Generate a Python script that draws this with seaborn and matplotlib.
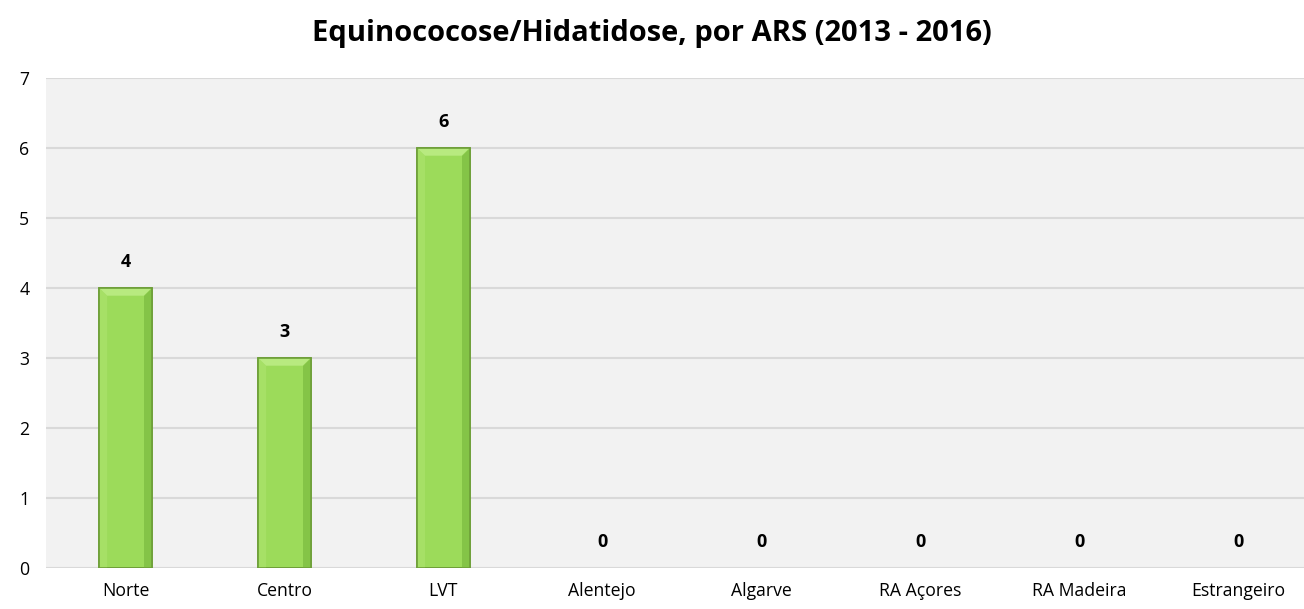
import matplotlib
matplotlib.use("Agg")
import matplotlib.pyplot as plt
from matplotlib.patches import Polygon
import pandas as pd
import seaborn as sns

regions = ["Norte", "Centro", "LVT", "Alentejo", "Algarve", "RA Açores", "RA Madeira", "Estrangeiro"]
cases = [4, 3, 6, 0, 0, 0, 0, 0]
title = "Equinococose/Hidatidose, por ARS (2013 - 2016)"

df = pd.DataFrame({"region": regions, "cases": cases})

sns.set_theme(style="white")
plt.rcParams["font.family"] = ["Open Sans", "DejaVu Sans"]

fig = plt.figure(figsize=(13.04, 6.09), dpi=100)
ax = fig.add_axes([46 / 1304, 41 / 609, 1 - 46 / 1304, 490 / 609])
ax.set_facecolor("#F2F2F2")

sns.barplot(data=df, x="region", y="cases", color="#9CDB5A", width=0.33,
            edgecolor="#6E9F38", linewidth=1.2, saturation=1, ax=ax, zorder=3)

# bevel look: lighter top, darker right side
bx, by = 0.05, 0.11
for p in ax.patches:
    h = p.get_height()
    if h <= 0:
        p.set_visible(False)
        continue
    x0, w = p.get_x(), p.get_width()
    x1 = x0 + w
    top = Polygon([(x0, h), (x1, h), (x1 - bx, h - by), (x0 + bx, h - by)],
                  closed=True, facecolor="#B8EA80", edgecolor="none", zorder=4)
    right = Polygon([(x1, h), (x1, 0), (x1 - bx, 0), (x1 - bx, h - by)],
                    closed=True, facecolor="#84C447", edgecolor="none", zorder=4)
    left = Polygon([(x0, h), (x0 + bx, h - by), (x0 + bx, 0), (x0, 0)],
                   closed=True, facecolor="#A6E066", edgecolor="none", zorder=4)
    ax.add_patch(left)
    ax.add_patch(right)
    ax.add_patch(top)
    ax.add_patch(Polygon([(x0, 0), (x0, h), (x1, h), (x1, 0)], closed=True,
                         facecolor="none", edgecolor="#6E9F38", linewidth=1.2, zorder=5))

for i, v in enumerate(cases):
    ax.text(i, v + 0.37, str(v), ha="center", va="center",
            fontsize=13, fontweight="bold", color="black", zorder=6)

ax.set_ylim(0, 7)
ax.set_xlim(-0.5, 7.415)
ax.set_yticks(range(0, 8))
ax.yaxis.grid(True, color="#D9D9D9", linewidth=1.5, zorder=0)
ax.set_axisbelow(True)
for s in ax.spines.values():
    s.set_visible(False)
ax.axhline(0, color="#D9D9D9", linewidth=2, zorder=2)
ax.tick_params(axis="both", length=0, labelsize=12.7, colors="black")
ax.tick_params(axis="y", pad=12)
ax.tick_params(axis="x", pad=10)
ax.set_xlabel("")
ax.set_ylabel("")
fig.text(0.5, 1 - 34 / 609, title, ha="center", va="center",
         fontsize=21, fontweight="bold", color="black")

fig.savefig("out.png", dpi=100, facecolor="white")
